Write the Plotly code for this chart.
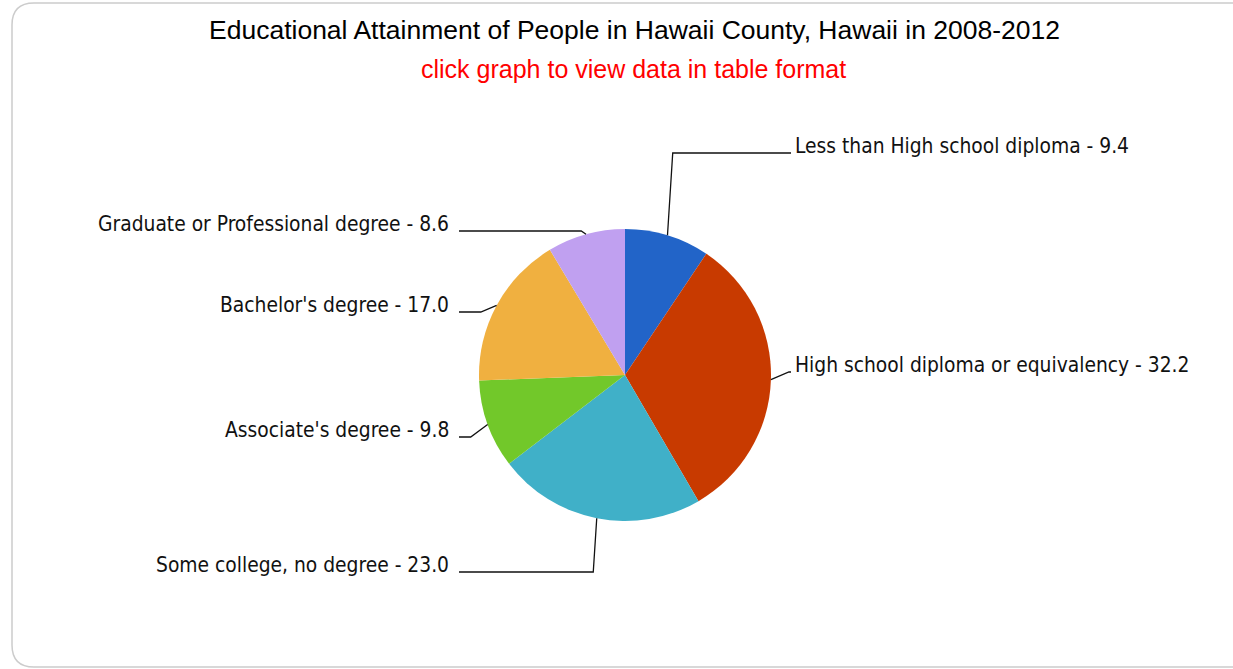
import math
import plotly.graph_objects as go

# ---- data ----
categories = [
    "Less than High school diploma",
    "High school diploma or equivalency",
    "Some college, no degree",
    "Associate's degree",
    "Bachelor's degree",
    "Graduate or Professional degree",
]
values = [9.4, 32.2, 23.0, 9.8, 17.0, 8.6]
colors = ["#2264C8", "#C83A00", "#40B0C8", "#72C82A", "#F0B040", "#C0A0F0"]

title_text = "Educational Attainment of People in Hawaii County, Hawaii in 2008-2012"
subtitle_text = "click graph to view data in table format"

# ---- layout constants (pixels) ----
W, H = 1233, 669
CX, CY, R = 625, 375, 146
label_y_px = [146, 365, 565, 430, 305, 224]   # label centre positions (layout)
RIGHT_X, LEFT_X = 793, 451
ELBOW_EXT = 18
LABEL_FONT = dict(family="DejaVu Sans Condensed, DejaVu Sans, sans-serif", size=20.8, color="#111111")


def px(x):
    return x / W


def py(y):
    return 1 - y / H


fig = go.Figure()
fig.add_trace(go.Pie(
    labels=categories,
    values=values,
    marker=dict(colors=colors, line=dict(width=0)),
    sort=False,
    direction="clockwise",
    rotation=0,
    textinfo="none",
    hoverinfo="label+value",
    showlegend=False,
    domain=dict(x=[px(CX - R), px(CX + R)], y=[py(CY + R), py(CY - R)]),
))

shapes = []
annotations = []
total = sum(values)
cum = 0.0
for name, v, ly in zip(categories, values, label_y_px):
    mid = (cum + v / 2) / total * 2 * math.pi
    cum += v
    s, c = math.sin(mid), -math.cos(mid)
    ax, ay = CX + R * s, CY + R * c
    ex = CX + (R + ELBOW_EXT) * s
    line_y = ly + 7
    right = s >= 0
    endx = RIGHT_X - 2 if right else LEFT_X + 8
    path = f"M {px(ax)} {py(ay)} L {px(ex)} {py(line_y)} L {px(endx)} {py(line_y)}"
    shapes.append(dict(type="path", xref="paper", yref="paper", path=path,
                       line=dict(color="#111111", width=1.3)))
    annotations.append(dict(
        x=px(RIGHT_X if right else LEFT_X), y=py(ly), xref="paper", yref="paper",
        text=f"{name} - {v:.1f}", showarrow=False,
        xanchor="left" if right else "right", yanchor="middle",
        font=LABEL_FONT,
    ))

# title and subtitle
annotations.append(dict(x=px(634), y=py(30), xref="paper", yref="paper", text=title_text,
                        showarrow=False, xanchor="center", yanchor="middle",
                        font=dict(family="Liberation Sans, Arial, sans-serif", size=26.5, color="#000000")))
annotations.append(dict(x=px(633), y=py(69), xref="paper", yref="paper", text=subtitle_text,
                        showarrow=False, xanchor="center", yanchor="middle",
                        font=dict(family="Liberation Sans, Arial, sans-serif", size=25, color="#FF0000")))

# rounded border frame
x0, y0, x1, y1, rr = 12, 3, 1260, 667, 22
border = (f"M {px(x0 + rr)} {py(y0)} L {px(x1)} {py(y0)} L {px(x1)} {py(y1)} "
          f"L {px(x0 + rr)} {py(y1)} Q {px(x0)} {py(y1)} {px(x0)} {py(y1 - rr)} "
          f"L {px(x0)} {py(y0 + rr)} Q {px(x0)} {py(y0)} {px(x0 + rr)} {py(y0)} Z")
shapes.insert(0, dict(type="path", xref="paper", yref="paper", path=border,
                      line=dict(color="#CCCCCC", width=1.5), fillcolor="rgba(0,0,0,0)", layer="below"))

fig.update_layout(
    width=W, height=H,
    margin=dict(l=0, r=0, t=0, b=0),
    paper_bgcolor="white",
    plot_bgcolor="white",
    shapes=shapes,
    annotations=annotations,
)

fig.write_html("out.html", config={"displayModeBar": False},
               post_script="document.body.style.margin='0';document.body.style.overflow='hidden';")
